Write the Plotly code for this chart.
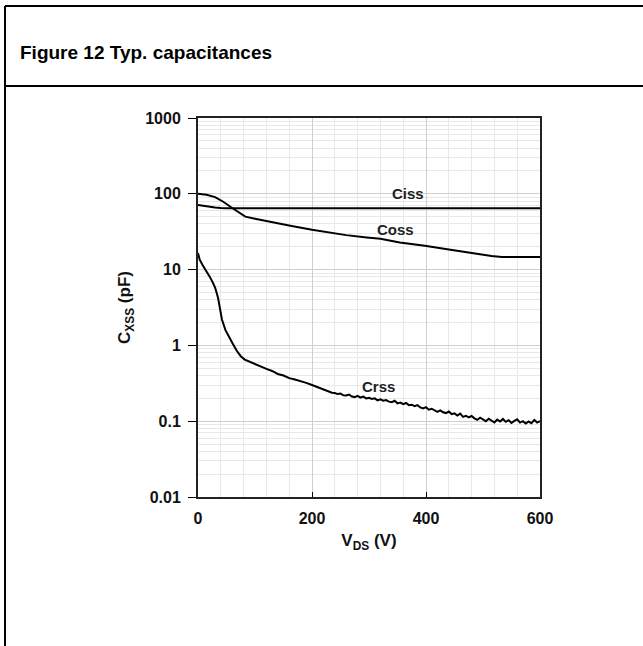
import math
import plotly.graph_objects as go

# Ciss / Coss / Crss vs VDS
ciss_v = [0, 10, 20, 30, 40, 50, 600]
ciss_c = [71, 69, 67.5, 66, 65, 64.5, 64.5]

coss_v = [0, 15, 30, 45, 60, 72, 83, 100, 121, 140, 162, 200, 232, 260, 296, 320,
          354, 398, 440, 480, 495, 515, 533, 600]
coss_c = [100, 97, 90.5, 78, 65, 56, 50, 47, 43.5, 41, 38, 33.6, 30.5, 28.5, 26.6, 25.6,
          22.8, 20.7, 18.4, 16.6, 15.8, 15.1, 14.7, 14.7]

crss_v = [0, 3, 8, 14, 20, 25, 30, 35, 38, 42, 48, 55, 61, 68, 75, 82, 90, 100,
          110, 120, 130, 140, 150, 160, 170, 180, 190, 200, 205, 210, 215, 220,
          225, 230, 235, 240, 245, 250, 255, 260, 265, 270, 275, 280, 285, 290,
          295, 300, 305, 310, 315, 320, 325, 330, 335, 340, 345, 350, 355, 360,
          365, 370, 375, 380, 385, 390, 395, 400, 405, 410, 415, 420, 425, 430,
          435, 440, 445, 450, 455, 460, 465, 470, 475, 480, 485, 490, 495, 500,
          505, 510, 515, 520, 525, 530, 535, 540, 545, 550, 555, 560, 565, 570,
          575, 580, 585, 590, 595, 600]
crss_c = [16.5, 13.5, 11.5, 9.8, 8.2, 7.0, 5.8, 4.3, 3.3, 2.2, 1.6, 1.25, 1.05, 0.85,
          0.72, 0.65, 0.61, 0.57, 0.53, 0.49, 0.46, 0.42, 0.40, 0.37, 0.355, 0.34,
          0.32, 0.30, 0.29, 0.28, 0.27, 0.262, 0.252, 0.246, 0.238,
          0.235, 0.228, 0.232, 0.22, 0.218, 0.225, 0.212, 0.208, 0.216, 0.205, 0.211,
          0.2, 0.203, 0.196, 0.2, 0.188, 0.194, 0.186, 0.19, 0.181, 0.178, 0.186,
          0.172, 0.176, 0.168, 0.174, 0.163, 0.165, 0.158, 0.163, 0.152, 0.147,
          0.153, 0.142, 0.146, 0.14, 0.133, 0.139, 0.131, 0.128, 0.134, 0.124,
          0.127, 0.119, 0.126, 0.114, 0.118, 0.112, 0.117, 0.109, 0.104, 0.111,
          0.106, 0.1, 0.108, 0.103, 0.096, 0.105, 0.099, 0.107, 0.098, 0.103,
          0.095, 0.101, 0.106, 0.096, 0.1, 0.093, 0.099, 0.094, 0.104, 0.096, 0.1]

# curve labels: text, VDS, C
labels = [("Ciss", 368, 102), ("Coss", 346, 34), ("Crss", 316, 0.29)]

y_ticks = [0.01, 0.1, 1, 10, 100, 1000]
y_ticktext = ["0.01", "0.1", "1", "10", "100", "1000"]
x_ticks = [0, 200, 400, 600]

fig = go.Figure()
for v, c in [(ciss_v, ciss_c), (coss_v, coss_c), (crss_v, crss_c)]:
    fig.add_trace(go.Scatter(x=v, y=c, mode="lines",
                             line=dict(color="black", width=2), showlegend=False))

# log axis -> annotation y is in log10 units
for txt, x, y in labels:
    fig.add_annotation(x=x, y=math.log10(y), text=txt, showarrow=False,
                       font=dict(size=15, color="#222", weight="bold"))

font = "Liberation Sans, Arial, sans-serif"

fig.update_xaxes(
    range=[0, 600], tickvals=x_ticks, ticks="inside", ticklen=5, tickcolor="black",
    showline=True, linecolor="#222", linewidth=2, mirror=True,
    showgrid=True, gridcolor="#cfcfcf", gridwidth=1,
    minor=dict(dtick=40, showgrid=True, gridcolor="#e8e8e8"),
    tickfont=dict(size=16, weight="bold", color="#111"),
    ticklabelstandoff=6,
    title=dict(text="V<sub>DS</sub> (V)", font=dict(size=17, weight="bold", color="#111"),
               standoff=8),
    zeroline=False,
)
fig.update_yaxes(
    type="log", range=[-2, 3], tickvals=y_ticks, ticktext=y_ticktext,
    ticks="outside", ticklen=8, tickcolor="black",
    showline=True, linecolor="#222", linewidth=2, mirror=True,
    showgrid=True, gridcolor="#cfcfcf", gridwidth=1,
    minor=dict(dtick="D1", showgrid=True, gridcolor="#e8e8e8"),
    tickfont=dict(size=16, weight="bold", color="#111"),
    ticklabelstandoff=4,
    title=dict(text="C<sub>XSS</sub> (pF)", font=dict(size=17, weight="bold", color="#111"),
               standoff=10),
    zeroline=False,
)

# outer datasheet frame (paper coordinates relative to plot area)
L, T, W, H = 198, 118, 342, 379
def px(x): return (x - L) / W
def py(y): return (T + H - y) / H

frame = dict(color="black", width=2)
fig.add_shape(type="line", xref="paper", yref="paper", x0=px(5), x1=px(5), y0=py(6), y1=py(646), line=frame)
fig.add_shape(type="line", xref="paper", yref="paper", x0=px(5), x1=px(643), y0=py(6), y1=py(6), line=frame)
fig.add_shape(type="line", xref="paper", yref="paper", x0=px(5), x1=px(643), y0=py(86), y1=py(86), line=frame)

fig.add_annotation(xref="paper", yref="paper", x=px(18), y=py(52), xanchor="left", yanchor="middle",
                   text="Figure 12 Typ. capacitances", showarrow=False,
                   font=dict(size=19, weight="bold", color="black"))

fig.update_layout(
    width=643, height=646,
    margin=dict(l=L, r=643 - L - W, t=T, b=646 - T - H),
    plot_bgcolor="white", paper_bgcolor="white",
    font=dict(family=font),
)

fig.write_html("out.html", config={"displayModeBar": False},
               post_script="document.body.style.margin='0';")
